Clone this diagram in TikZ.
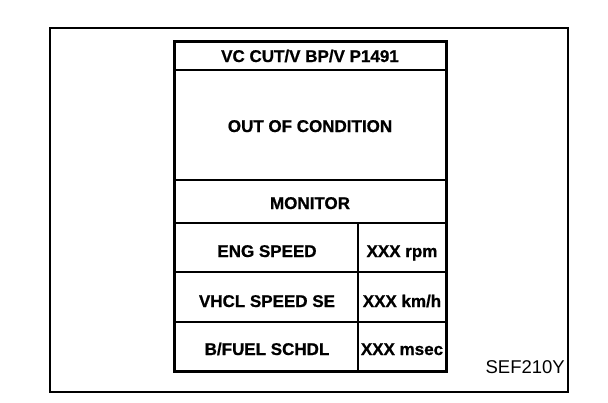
\documentclass[tikz,border=0pt]{standalone}
\usepackage{fontspec}
\setmainfont{Liberation Sans}[BoldFeatures={FakeBold=0.8}]
\usetikzlibrary{calc}

\begin{document}
\begin{tikzpicture}[x=1pt, y=-1pt,
		cell/.style={font=\bfseries\fontsize{17}{19}\selectfont, inner sep=0pt, anchor=base},
		figcode/.style={font=\fontsize{18.5}{20}\selectfont, inner sep=0pt, anchor=base east}]
		\def\l{174};
		\def\r{446};
		\def\m{358};
		\def\t{41};
		\def\b{371};
		
		\useasboundingbox (0,0) rectangle (608,402);
		\draw [line width=1.6pt] (50,28) rectangle (568,392);
		
		\begin{scope} [line width=1.5pt]
			\foreach \y in {70, 180, 223, 272, 322}
				\draw (\l,\y) -- (\r,\y);
			\draw (\m,223) -- (\m,\b);
		\end{scope}
		\draw [line width=3pt] (\l,\t) rectangle (\r,\b);
		
		\coordinate (mid) at ({(\l+\r)/2},0);
		\coordinate (left) at ({(\l+\m)/2 + 1},0);
		\coordinate (right) at ({(\m+\r)/2},0);
		
		\node [cell] (title) at ($(mid) + (0,62)$) {VC CUT/V BP/V P1491};
		\node [cell] (state) at ($(mid) + (0,132)$) {OUT OF CONDITION};
		\node [cell] (monitor) at ($(mid) + (0,209)$) {MONITOR};
		
		\node [cell] (eng) at ($(left) + (0,257)$) {ENG SPEED};
		\node [cell] (vhcl) at ($(left) + (0,307)$) {VHCL SPEED SE};
		\node [cell] (fuel) at ($(left) + (0,355)$) {B/FUEL SCHDL};
		
		\node [cell] (rpm) at ($(right) + (0,257)$) {XXX rpm};
		\node [cell] (kmh) at ($(right) + (0,307)$) {XXX km/h};
		\node [cell] (msec) at ($(right) + (0,355)$) {XXX msec};
		
		\node [figcode] (code) at (565,373) {SEF210Y};
	\end{tikzpicture}
\end{document}
